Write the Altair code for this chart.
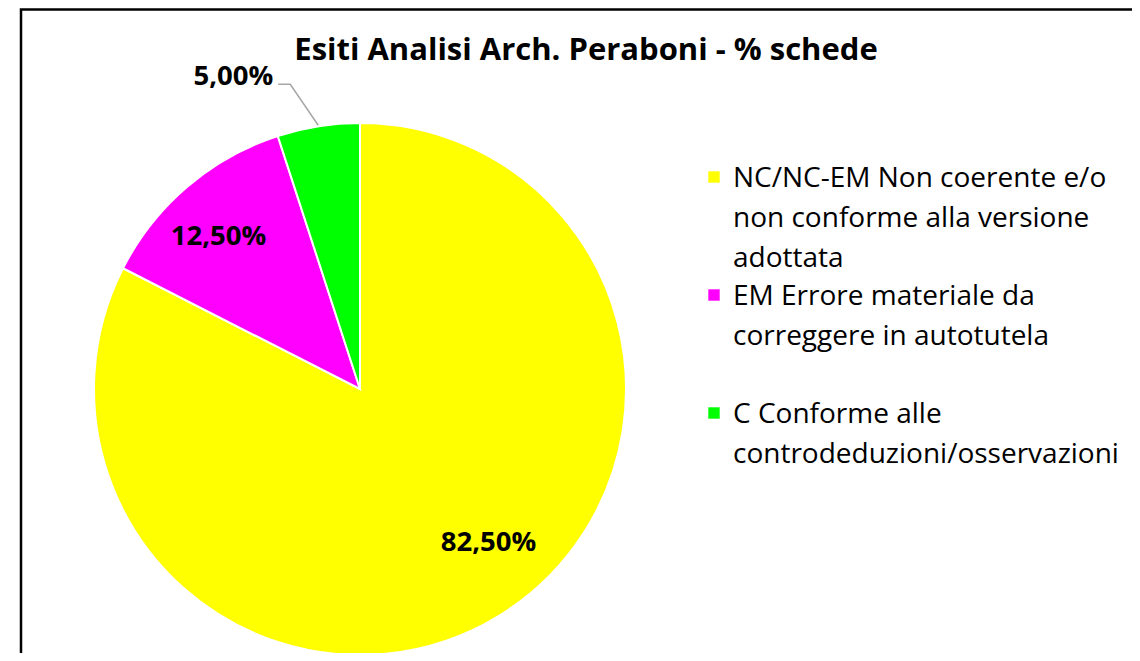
import math
import altair as alt
import pandas as pd

# ---- data ----
categories = [
    "NC/NC-EM Non coerente e/o non conforme alla versione adottata",
    "EM Errore materiale da correggere in autotutela",
    "C Conforme alle controdeduzioni/osservazioni",
]
legend_text = [
    "NC/NC-EM Non coerente e/o\nnon conforme alla versione\nadottata",
    "EM Errore materiale da\ncorreggere in autotutela",
    "C Conforme alle\ncontrodeduzioni/osservazioni",
]
values = [82.5, 12.5, 5.0]
labels = ["82,50%", "12,50%", "5,00%"]
colors = ["#FFFF00", "#FF00FF", "#00FF00"]
title_text = "Esiti Analisi Arch. Peraboni - % schede"

FONT = "Open Sans"
W, H = 1124, 645
CX, CY, R = 352, 381, 266

total = sum(values)
cum = 0.0
mids = []
for v in values:
    mids.append((cum + v / 2) / total * 2 * math.pi)
    cum += v

df = pd.DataFrame({
    "cat": categories,
    "value": values,
    "label": labels,
    "legend": legend_text,
    "idx": list(range(len(categories))),
    "mid": mids,
})

color_scale = alt.Scale(domain=categories, range=colors)
base = alt.Chart(df)

pie = base.mark_arc(radius=R, stroke="white", strokeWidth=2).encode(
    theta=alt.Theta("value:Q", stack=True),
    color=alt.Color("cat:N", scale=color_scale, legend=None),
    order=alt.Order("idx:Q"),
    x=alt.value(CX),
    y=alt.value(CY),
)

LABEL_SIZE = 27.5

def inner_label(i, radius, dx, dy):
    return base.transform_filter(alt.datum.idx == i).mark_text(
        radius=radius, dx=dx, dy=dy, font=FONT, fontSize=LABEL_SIZE, fontWeight="bold",
        color="black", align="center", baseline="middle",
    ).encode(
        theta=alt.Theta("mid:Q", scale=None),
        text="label:N",
        x=alt.value(CX),
        y=alt.value(CY),
    )

lab_yellow = inner_label(0, 200, 24, -17)
lab_magenta = inner_label(1, 207, -7, 5)

# leader line for the small slice (computed from its mid angle)
a = mids[2]
sx, sy = CX + (R + 1) * math.sin(a), CY - (R + 1) * math.cos(a)
ex, ey = sx - 28, sy - 41
fx, fy = ex - 12, ey
leader_df = pd.DataFrame({"px": [sx, ex, fx], "py": [sy, ey, fy], "o": [0, 1, 2]})
leader = alt.Chart(leader_df).mark_line(color="#A6A6A6", strokeWidth=1.5).encode(
    x=alt.X("px:Q", scale=None),
    y=alt.Y("py:Q", scale=None),
    order="o:Q",
)
lab_green = base.transform_filter(alt.datum.idx == 2).mark_text(
    font=FONT, fontSize=LABEL_SIZE, fontWeight="bold", color="black",
    align="right", baseline="middle",
).encode(
    text="label:N",
    x=alt.value(fx - 5),
    y=alt.value(fy - 7),
)

# legend
leg_y = alt.Scale(domain=[0, 2], range=[169, 405])
leg_sq = base.mark_square(size=130, opacity=1).encode(
    x=alt.value(706),
    y=alt.Y("idx:Q", scale=leg_y, axis=None),
    color=alt.Color("cat:N", scale=color_scale, legend=None),
)
leg_tx = base.mark_text(
    font=FONT, fontSize=28, color="black", align="left", baseline="alphabetic",
    lineBreak="\n", lineHeight=40, dy=10,
).encode(
    x=alt.value(725),
    y=alt.Y("idx:Q", scale=leg_y, axis=None),
    text="legend:N",
)

title = alt.Chart(pd.DataFrame({"t": [title_text]})).mark_text(
    font=FONT, fontSize=31, fontWeight="bold", color="black",
    align="center", baseline="middle",
).encode(text="t:N", x=alt.value(578), y=alt.value(43))

border = alt.Chart(pd.DataFrame({"b": [1]})).mark_rect(
    filled=False, stroke="black", strokeWidth=2.5,
).encode(x=alt.value(13), x2=alt.value(1400), y=alt.value(1.5), y2=alt.value(1000))

chart = alt.layer(
    border, pie, lab_yellow, lab_magenta, leader, lab_green, leg_sq, leg_tx, title
).properties(
    width=W, height=H, autosize="none", padding=0, background="white",
).configure_view(stroke=None)

chart.save("out.html", embed_options={"renderer": "svg", "actions": False})
